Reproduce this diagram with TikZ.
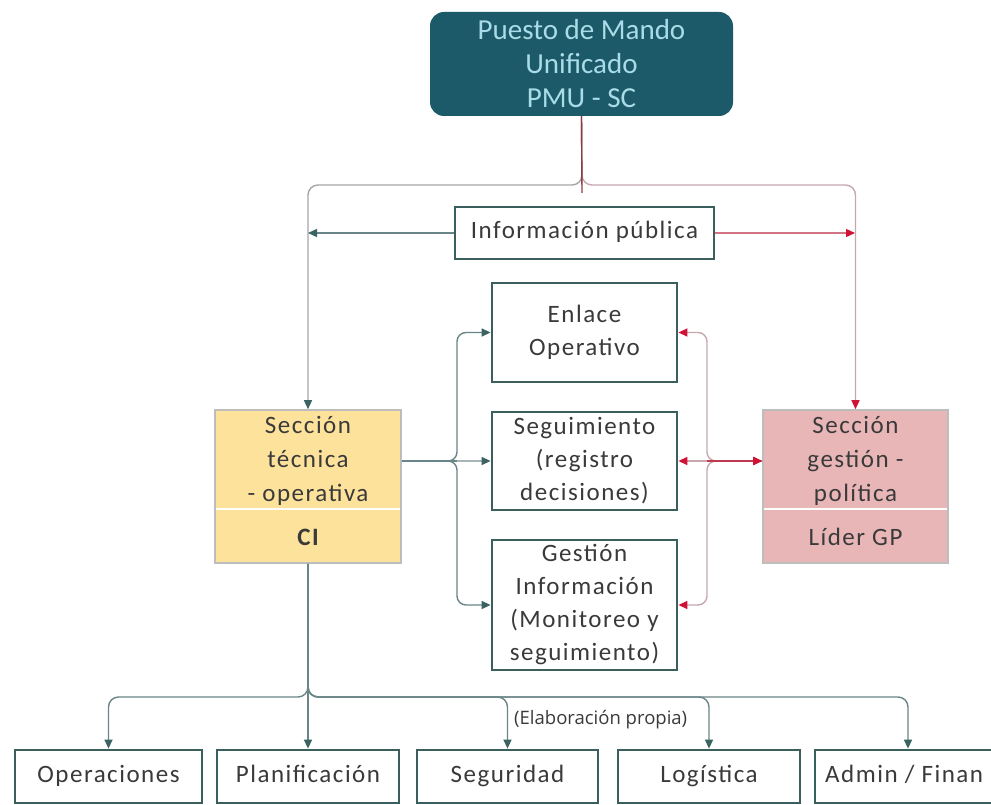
\documentclass[tikz,border=0pt]{standalone}
\usepackage{fontspec}
\setmainfont{Carlito}
\newfontfamily\bx[LetterSpace=6]{Carlito}
\newfontfamily\pmuf{Carlito}
\newfontfamily\capf{Open Sans}
\usetikzlibrary{arrows.meta}
\definecolor{boxedge}{HTML}{3B5F5D}
\definecolor{pmufill}{HTML}{1C5A69}
\definecolor{pmutext}{HTML}{A9DCE6}
\definecolor{yelfill}{HTML}{FDE29B}
\definecolor{pinkfill}{HTML}{E9B6B8}
\definecolor{secedge}{HTML}{BDBDBD}
\definecolor{lineteal}{HTML}{6A8587}
\definecolor{arrteal}{HTML}{3A6361}
\definecolor{linepink}{HTML}{C6A8AE}
\definecolor{arrred}{HTML}{CF1235}
\definecolor{linered}{HTML}{C0394F}
\definecolor{pmuline}{HTML}{8E3B46}
\definecolor{txt}{HTML}{3A3A3A}
\begin{document}
\begin{tikzpicture}[x=1pt,y=-1pt,
  wbox/.style={draw=boxedge, line width=2.8pt, fill=white, inner sep=0pt,
    align=center, text=txt, font=\bx\fontsize{25}{33}\selectfont},
  bbox/.style={wbox, minimum height=53pt, text height=18pt, text depth=6pt},
  secbox/.style={draw=secedge, line width=1.6pt, inner sep=0pt},
  sectxt/.style={align=center, text=txt, inner sep=0pt, font=\bx\fontsize{25}{34}\selectfont},
  tline/.style={draw=lineteal, line width=1.4pt},
  pline/.style={draw=linepink, line width=1.4pt},
  tarr/.style={-{Triangle[length=9pt,width=8pt,color=arrteal]}},
  rarr/.style={-{Triangle[length=9pt,width=8pt,color=arrred]}},
  rrarr/.style={{Triangle[length=9pt,width=8pt,color=arrred]}-{Triangle[length=9pt,width=8pt,color=arrred]}}
]
\clip (0,0) rectangle (991,805);
\fill[white] (0,0) rectangle (991,805);

% top box
\node[fill=pmufill, rounded corners=14pt, minimum width=303pt, minimum height=104pt,
  inner sep=0pt, align=center, text=pmutext, font=\pmuf\fontsize{29}{34}\selectfont]
  (pmu) at (581.5,64) {Puesto de Mando\\Unificado\\PMU - SC};

% middle boxes
\node[wbox, minimum width=259pt, minimum height=52pt, text height=18pt, text depth=6pt] (info) at (584.5,233) {Información pública};
\node[wbox, minimum width=185pt, minimum height=99pt] (enl) at (584.5,332.5) {Enlace\\Operativo};
\node[wbox, minimum width=185pt, minimum height=98pt] (seg) at (584.5,461) {Seguimiento\\(registro\\decisiones)};
\node[wbox, minimum width=185pt, minimum height=130pt] (gest) at (584.5,605) {Gestión\\Información\\(Monitoreo y\\seguimiento)};

% section boxes
\node[secbox, fill=yelfill, minimum width=186pt, minimum height=153pt] (sectec) at (308,486.5) {};
\draw[white, line width=2.5pt] ([xshift=1.5pt]sectec.west |- 0,509) -- ([xshift=-1.5pt]sectec.east |- 0,509);
\node[sectxt] (sectecA) at (308,461) {Sección\\técnica\\- operativa};
\node[sectxt, font=\bx\bfseries\fontsize{25}{34}\selectfont] (sectecB) at (308,537) {CI};

\node[secbox, fill=pinkfill, minimum width=185pt, minimum height=153pt] (secgest) at (855.5,486.5) {};
\draw[white, line width=2.5pt] ([xshift=1.5pt]secgest.west |- 0,509) -- ([xshift=-1.5pt]secgest.east |- 0,509);
\node[sectxt] (secgestA) at (855.5,461) {Sección\\gestión -\\política};
\node[sectxt] (secgestB) at (855.5,537) {Líder GP};

% bottom boxes
\node[bbox, minimum width=187pt] (ops) at (108.5,776.5) {Operaciones};
\node[bbox, minimum width=182pt] (plan) at (308,776.5) {Planificación};
\node[bbox, minimum width=181pt] (segu) at (507.5,776.5) {Seguridad};
\node[bbox, minimum width=182pt] (log) at (709,776.5) {Logística};
\node[bbox, minimum width=186pt] (adm) at (908,776.5) {};
\node[anchor=west, inner sep=0pt, text=txt, text height=18pt, text depth=6pt, font=\bx\fontsize{25}{33}\selectfont] (admT) at (825,776.5) {Admin / Finan};

% caption
\node[anchor=west, inner sep=0pt, text=txt, font=\capf\fontsize{18.5}{22}\selectfont] (cap) at (514,720) {(Elaboración propia)};

% top connectors
\coordinate (topj) at (582,185);
\draw[draw=gray!70, line width=1.4pt, rounded corners=10pt, tarr] (pmu.south) -- (topj) -| (sectec.north);
\draw[pline, rounded corners=10pt, rarr] (pmu.south) -- (topj) -| (secgest.north);
\draw[draw=pmuline, line width=1.4pt] (pmu.south) -- ([yshift=-8pt]topj);

% info arrows
\coordinate (infoL) at (308,233);
\coordinate (infoR) at (855,233);
\draw[tline, tarr] (info.west) -- (infoL);
\draw[draw=linered!70, line width=1.4pt, rarr] (info.east) -- (infoR);

% left bracket
\coordinate (lj) at (457,461);
\coordinate (stE) at (sectec.east |- seg.west);
\draw[tline, rounded corners=9pt, tarr] (stE) -- (lj) |- (enl.west);
\draw[tline, rounded corners=9pt, tarr] (stE) -- (lj) |- (gest.west);
\draw[tline] (stE) -- (lj);
\draw[draw=lineteal!60, line width=1.2pt, tarr] (lj) -- (seg.west);

% right bracket
\coordinate (rj) at (707,461);
\coordinate (sgW) at (secgest.west |- seg.east);
\draw[pline, rounded corners=9pt, rarr] (sgW) -- (rj) |- (enl.east);
\draw[pline, rounded corners=9pt, rarr] (sgW) -- (rj) |- (gest.east);
\draw[pline, rrarr] (seg.east) -- (sgW);
\draw[draw=linered, line width=1.6pt, rarr] (rj) -- (sgW);

% bottom connectors
\coordinate (bj) at (308,697);
\draw[tline, rounded corners=10pt, tarr] (sectec.south) -- (bj) -| (ops.north);
\draw[tline, tarr] (sectec.south) -- (plan.north);
\draw[tline, rounded corners=10pt, tarr] (sectec.south) -- (bj) -| (segu.north);
\draw[tline, rounded corners=10pt, tarr] (sectec.south) -- (bj) -| (log.north);
\draw[tline, rounded corners=10pt, tarr] (sectec.south) -- (bj) -| (adm.north);
\end{tikzpicture}
\end{document}
